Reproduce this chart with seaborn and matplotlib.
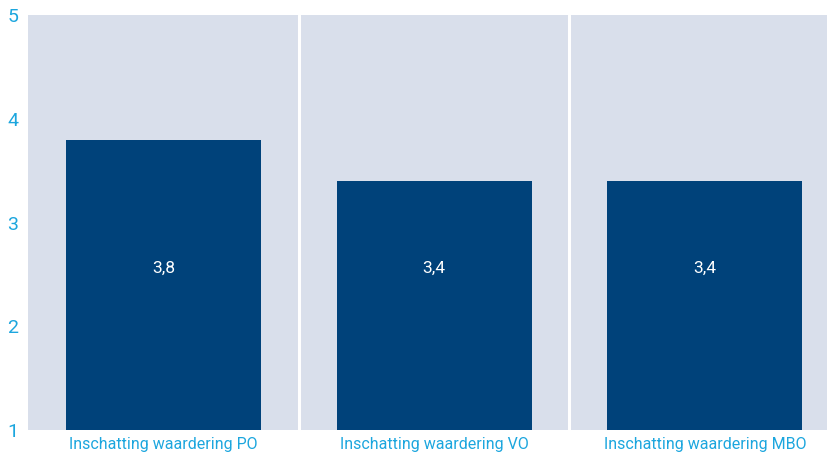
import numpy as np
import pandas as pd
import matplotlib
matplotlib.use("Agg")
import matplotlib.pyplot as plt
import seaborn as sns

categories = ["Inschatting waardering PO", "Inschatting waardering VO", "Inschatting waardering MBO"]
values = [3.8, 3.4, 3.4]
value_labels = ["3,8", "3,4", "3,4"]
y_ticks = [1, 2, 3, 4, 5]

bg = "#d9dfeb"
bar_color = "#00427a"
text_color = "#1ca6de"

sns.set_style("white")
plt.rcParams["font.family"] = ["Roboto", "DejaVu Sans"]

# bars start at the axis floor (1), so plot height above it
df = pd.DataFrame({"cat": categories, "height": np.array(values) - 1})

fig = plt.figure(figsize=(8.28, 4.55), dpi=100)
ax = fig.add_axes([28 / 828, 25 / 455, 800 / 828, 415 / 455])
ax.set_facecolor(bg)

sns.barplot(data=df, x="cat", y="height", color=bar_color, width=0.72,
            saturation=1, bottom=1, linewidth=0, ax=ax, zorder=2)

for x in [0.5, 1.5]:
    ax.axvline(x, color="white", lw=2.2, zorder=3)

for i, lab in enumerate(value_labels):
    ax.text(i, 2.56, lab, color="white", ha="center", va="center",
            fontsize=12.5, zorder=4)

ax.set_xlim(-0.5, 2.455)
ax.set_ylim(1, 5)
ax.set_yticks(y_ticks)
ax.set_yticklabels([str(t) for t in y_ticks])
ax.set_xticks(range(len(categories)))
ax.set_xticklabels(categories)
ax.tick_params(axis="y", length=0, colors=text_color, labelsize=14, pad=7)
ax.tick_params(axis="x", length=0, colors=text_color, labelsize=11.5, pad=5)
for s in ax.spines.values():
    s.set_visible(False)
ax.set_xlabel("")
ax.set_ylabel("")

fig.savefig("out.png", dpi=100, facecolor="white")
